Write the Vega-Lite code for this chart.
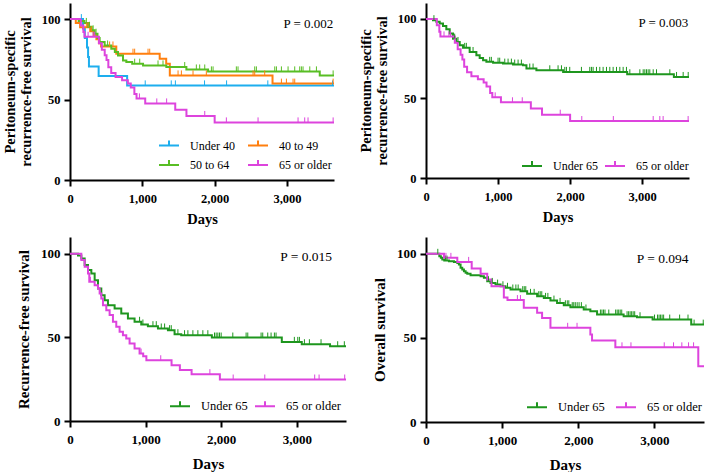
{
  "$schema": "https://vega.github.io/schema/vega-lite/v6.json",
  "padding": {"left": 2, "top": 3, "right": 0, "bottom": 0},
  "columns": 2,
  "align": "each",
  "spacing": {"row": 11, "column": 8},
  "resolve": {"scale": {"color": "independent"}, "legend": {"color": "independent"}},
  "config": {
    "font": "Liberation Serif",
    "view": {"stroke": null},
    "axis": {"grid": false, "domainColor": "black", "domainWidth": 2, "tickColor": "black", "tickWidth": 2, "tickSize": 6,
      "labelFont": "Liberation Serif", "labelFontWeight": "bold", "labelFontSize": 12.5, "labelColor": "black", "labelFlush": false,
      "titleFont": "Liberation Serif", "titleFontWeight": "bold", "titleFontSize": 14.5, "titleColor": "black"},
    "legend": {"orient": "none", "columns": 2, "direction": "horizontal", "symbolType": "M-1,0H1M0,0V-0.5", "symbolSize": 400, "symbolStrokeWidth": 2,
      "labelFont": "Liberation Serif", "labelFontSize": 12, "labelFontWeight": "normal", "labelColor": "black", "labelOffset": 10, "rowPadding": 2.5, "padding": 0, "title": null}
  },
  "datasets": {
    "p1": [
      {"g":"Under 40","d":0,"s":100,"t":"e"},{"g":"Under 40","d":157,"s":100,"t":"c"},{"g":"Under 40","d":180,"s":94.1,"t":"e"},{"g":"Under 40","d":205,"s":88.2,"t":"e"},{"g":"Under 40","d":235,"s":82.4,"t":"e"},{"g":"Under 40","d":250,"s":76.5,"t":"e"},{"g":"Under 40","d":262,"s":70.6,"t":"e"},{"g":"Under 40","d":396,"s":64.7,"t":"e"},{"g":"Under 40","d":790,"s":58.8,"t":"e"},{"g":"Under 40","d":1040,"s":58.8,"t":"c"},{"g":"Under 40","d":1400,"s":58.8,"t":"c"},{"g":"Under 40","d":1457,"s":58.8,"t":"c"},{"g":"Under 40","d":1860,"s":58.8,"t":"c"},{"g":"Under 40","d":2165,"s":58.8,"t":"c"},{"g":"Under 40","d":2735,"s":58.8,"t":"c"},{"g":"Under 40","d":3630,"s":58.8,"t":"c"},{"g":"Under 40","d":3650,"s":58.8,"t":"x"},
      {"g":"40 to 49","d":0,"s":100,"t":"e"},{"g":"40 to 49","d":80,"s":97.5,"t":"e"},{"g":"40 to 49","d":140,"s":95,"t":"e"},{"g":"40 to 49","d":226,"s":95,"t":"c"},{"g":"40 to 49","d":250,"s":95,"t":"c"},{"g":"40 to 49","d":280,"s":92.5,"t":"e"},{"g":"40 to 49","d":295,"s":92.5,"t":"c"},{"g":"40 to 49","d":330,"s":90,"t":"e"},{"g":"40 to 49","d":365,"s":87.5,"t":"e"},{"g":"40 to 49","d":400,"s":85,"t":"e"},{"g":"40 to 49","d":430,"s":83,"t":"e"},{"g":"40 to 49","d":548,"s":83,"t":"c"},{"g":"40 to 49","d":594,"s":83,"t":"c"},{"g":"40 to 49","d":640,"s":78.5,"t":"e"},{"g":"40 to 49","d":871,"s":78.5,"t":"c"},{"g":"40 to 49","d":894,"s":78.5,"t":"c"},{"g":"40 to 49","d":1079,"s":78.5,"t":"c"},{"g":"40 to 49","d":1102,"s":78.5,"t":"c"},{"g":"40 to 49","d":1240,"s":75.4,"t":"e"},{"g":"40 to 49","d":1330,"s":72.3,"t":"e"},{"g":"40 to 49","d":1380,"s":65,"t":"e"},{"g":"40 to 49","d":1494,"s":65,"t":"c"},{"g":"40 to 49","d":1540,"s":65,"t":"c"},{"g":"40 to 49","d":1701,"s":65,"t":"c"},{"g":"40 to 49","d":1885,"s":65,"t":"c"},{"g":"40 to 49","d":2531,"s":65,"t":"c"},{"g":"40 to 49","d":2554,"s":65,"t":"c"},{"g":"40 to 49","d":2692,"s":65,"t":"c"},{"g":"40 to 49","d":2800,"s":59.9,"t":"e"},{"g":"40 to 49","d":2923,"s":59.9,"t":"c"},{"g":"40 to 49","d":2992,"s":59.9,"t":"c"},{"g":"40 to 49","d":3084,"s":59.9,"t":"c"},{"g":"40 to 49","d":3107,"s":59.9,"t":"c"},{"g":"40 to 49","d":3638,"s":59.9,"t":"c"},{"g":"40 to 49","d":3650,"s":59.9,"t":"x"},
      {"g":"50 to 64","d":0,"s":100,"t":"e"},{"g":"50 to 64","d":120,"s":98.8,"t":"e"},{"g":"50 to 64","d":200,"s":97.6,"t":"e"},{"g":"50 to 64","d":226,"s":97.6,"t":"c"},{"g":"50 to 64","d":250,"s":95.2,"t":"e"},{"g":"50 to 64","d":270,"s":95.2,"t":"c"},{"g":"50 to 64","d":300,"s":93,"t":"e"},{"g":"50 to 64","d":320,"s":93,"t":"c"},{"g":"50 to 64","d":341,"s":90.9,"t":"e"},{"g":"50 to 64","d":360,"s":90.9,"t":"c"},{"g":"50 to 64","d":380,"s":88.2,"t":"e"},{"g":"50 to 64","d":410,"s":85.7,"t":"e"},{"g":"50 to 64","d":479,"s":83.6,"t":"e"},{"g":"50 to 64","d":520,"s":83.6,"t":"c"},{"g":"50 to 64","d":571,"s":81.6,"t":"e"},{"g":"50 to 64","d":620,"s":79.5,"t":"e"},{"g":"50 to 64","d":664,"s":77.4,"t":"e"},{"g":"50 to 64","d":733,"s":74.3,"t":"e"},{"g":"50 to 64","d":779,"s":73.3,"t":"e"},{"g":"50 to 64","d":860,"s":72.3,"t":"e"},{"g":"50 to 64","d":894,"s":72.3,"t":"c"},{"g":"50 to 64","d":964,"s":72.3,"t":"c"},{"g":"50 to 64","d":1010,"s":71.2,"t":"e"},{"g":"50 to 64","d":1217,"s":71.2,"t":"c"},{"g":"50 to 64","d":1286,"s":71.2,"t":"c"},{"g":"50 to 64","d":1332,"s":70.2,"t":"e"},{"g":"50 to 64","d":1586,"s":70.2,"t":"c"},{"g":"50 to 64","d":1609,"s":68.7,"t":"e"},{"g":"50 to 64","d":1747,"s":68.7,"t":"c"},{"g":"50 to 64","d":1793,"s":68.7,"t":"c"},{"g":"50 to 64","d":1863,"s":68.7,"t":"c"},{"g":"50 to 64","d":1909,"s":67.5,"t":"e"},{"g":"50 to 64","d":1955,"s":67.5,"t":"c"},{"g":"50 to 64","d":1978,"s":67.5,"t":"c"},{"g":"50 to 64","d":2300,"s":67.5,"t":"c"},{"g":"50 to 64","d":2323,"s":67.5,"t":"c"},{"g":"50 to 64","d":2554,"s":67.5,"t":"c"},{"g":"50 to 64","d":2577,"s":67.5,"t":"c"},{"g":"50 to 64","d":2831,"s":67.5,"t":"c"},{"g":"50 to 64","d":2854,"s":67.5,"t":"c"},{"g":"50 to 64","d":2923,"s":67.5,"t":"c"},{"g":"50 to 64","d":3015,"s":67.5,"t":"c"},{"g":"50 to 64","d":3107,"s":67.5,"t":"c"},{"g":"50 to 64","d":3176,"s":67.5,"t":"c"},{"g":"50 to 64","d":3199,"s":67.5,"t":"c"},{"g":"50 to 64","d":3222,"s":67.5,"t":"c"},{"g":"50 to 64","d":3315,"s":67.5,"t":"c"},{"g":"50 to 64","d":3407,"s":67.5,"t":"c"},{"g":"50 to 64","d":3453,"s":65,"t":"e"},{"g":"50 to 64","d":3638,"s":65,"t":"c"},{"g":"50 to 64","d":3650,"s":65,"t":"x"},
      {"g":"65 or older","d":0,"s":100,"t":"e"},{"g":"65 or older","d":150,"s":96,"t":"e"},{"g":"65 or older","d":185,"s":92,"t":"e"},{"g":"65 or older","d":200,"s":89,"t":"e"},{"g":"65 or older","d":250,"s":89,"t":"c"},{"g":"65 or older","d":318,"s":89,"t":"c"},{"g":"65 or older","d":341,"s":89,"t":"c"},{"g":"65 or older","d":400,"s":85,"t":"e"},{"g":"65 or older","d":440,"s":81,"t":"e"},{"g":"65 or older","d":480,"s":77.5,"t":"e"},{"g":"65 or older","d":505,"s":74.5,"t":"e"},{"g":"65 or older","d":530,"s":70,"t":"e"},{"g":"65 or older","d":570,"s":66.5,"t":"e"},{"g":"65 or older","d":630,"s":64,"t":"e"},{"g":"65 or older","d":720,"s":62,"t":"e"},{"g":"65 or older","d":800,"s":60,"t":"e"},{"g":"65 or older","d":840,"s":57.5,"t":"e"},{"g":"65 or older","d":890,"s":53.5,"t":"e"},{"g":"65 or older","d":920,"s":50.7,"t":"e"},{"g":"65 or older","d":960,"s":50.7,"t":"c"},{"g":"65 or older","d":1040,"s":47.6,"t":"e"},{"g":"65 or older","d":1200,"s":47.6,"t":"c"},{"g":"65 or older","d":1336,"s":47.6,"t":"c"},{"g":"65 or older","d":1455,"s":43.7,"t":"e"},{"g":"65 or older","d":1610,"s":39.8,"t":"e"},{"g":"65 or older","d":1863,"s":39.8,"t":"c"},{"g":"65 or older","d":2000,"s":35.8,"t":"e"},{"g":"65 or older","d":2162,"s":35.8,"t":"c"},{"g":"65 or older","d":2600,"s":35.8,"t":"c"},{"g":"65 or older","d":3153,"s":35.8,"t":"c"},{"g":"65 or older","d":3245,"s":35.8,"t":"c"},{"g":"65 or older","d":3291,"s":35.8,"t":"c"},{"g":"65 or older","d":3638,"s":35.8,"t":"c"},{"g":"65 or older","d":3650,"s":35.8,"t":"x"}
    ],
    "p2": [
      {"g":"Under 65","d":0,"s":100,"t":"e"},{"g":"Under 65","d":97,"s":99.2,"t":"e"},{"g":"Under 65","d":110,"s":99.2,"t":"c"},{"g":"Under 65","d":144,"s":98.2,"t":"e"},{"g":"Under 65","d":190,"s":97.1,"t":"e"},{"g":"Under 65","d":236,"s":95.6,"t":"e"},{"g":"Under 65","d":282,"s":93.5,"t":"e"},{"g":"Under 65","d":329,"s":90.8,"t":"e"},{"g":"Under 65","d":375,"s":87.6,"t":"e"},{"g":"Under 65","d":398,"s":87.6,"t":"c"},{"g":"Under 65","d":421,"s":85.5,"t":"e"},{"g":"Under 65","d":444,"s":85.5,"t":"c"},{"g":"Under 65","d":468,"s":83.4,"t":"e"},{"g":"Under 65","d":514,"s":81.8,"t":"e"},{"g":"Under 65","d":537,"s":81.8,"t":"c"},{"g":"Under 65","d":560,"s":81.8,"t":"c"},{"g":"Under 65","d":606,"s":79.2,"t":"e"},{"g":"Under 65","d":653,"s":79.2,"t":"c"},{"g":"Under 65","d":699,"s":77.2,"t":"e"},{"g":"Under 65","d":745,"s":75.5,"t":"e"},{"g":"Under 65","d":792,"s":74,"t":"e"},{"g":"Under 65","d":838,"s":73,"t":"e"},{"g":"Under 65","d":884,"s":73,"t":"c"},{"g":"Under 65","d":907,"s":73,"t":"c"},{"g":"Under 65","d":931,"s":72.5,"t":"e"},{"g":"Under 65","d":1000,"s":72.5,"t":"c"},{"g":"Under 65","d":1023,"s":72.5,"t":"c"},{"g":"Under 65","d":1069,"s":71.9,"t":"e"},{"g":"Under 65","d":1093,"s":71.9,"t":"c"},{"g":"Under 65","d":1139,"s":71.9,"t":"c"},{"g":"Under 65","d":1185,"s":71.9,"t":"c"},{"g":"Under 65","d":1208,"s":71.3,"t":"e"},{"g":"Under 65","d":1231,"s":71.3,"t":"c"},{"g":"Under 65","d":1278,"s":71.3,"t":"c"},{"g":"Under 65","d":1324,"s":71.3,"t":"c"},{"g":"Under 65","d":1347,"s":70.9,"t":"e"},{"g":"Under 65","d":1394,"s":68.8,"t":"e"},{"g":"Under 65","d":1440,"s":68.8,"t":"c"},{"g":"Under 65","d":1486,"s":68.8,"t":"c"},{"g":"Under 65","d":1532,"s":67.7,"t":"e"},{"g":"Under 65","d":1718,"s":67.7,"t":"c"},{"g":"Under 65","d":1833,"s":67.7,"t":"c"},{"g":"Under 65","d":1880,"s":67.7,"t":"c"},{"g":"Under 65","d":1903,"s":66.7,"t":"e"},{"g":"Under 65","d":1926,"s":66.7,"t":"c"},{"g":"Under 65","d":1949,"s":66.7,"t":"c"},{"g":"Under 65","d":1995,"s":66.7,"t":"c"},{"g":"Under 65","d":2157,"s":66.7,"t":"c"},{"g":"Under 65","d":2273,"s":66.7,"t":"c"},{"g":"Under 65","d":2296,"s":66.7,"t":"c"},{"g":"Under 65","d":2319,"s":66.7,"t":"c"},{"g":"Under 65","d":2366,"s":66.7,"t":"c"},{"g":"Under 65","d":2412,"s":66.7,"t":"c"},{"g":"Under 65","d":2458,"s":66.7,"t":"c"},{"g":"Under 65","d":2505,"s":66.7,"t":"c"},{"g":"Under 65","d":2551,"s":66.7,"t":"c"},{"g":"Under 65","d":2597,"s":66.7,"t":"c"},{"g":"Under 65","d":2644,"s":66.7,"t":"c"},{"g":"Under 65","d":2690,"s":66.7,"t":"c"},{"g":"Under 65","d":2736,"s":66.7,"t":"c"},{"g":"Under 65","d":2782,"s":66.7,"t":"c"},{"g":"Under 65","d":2792,"s":65.2,"t":"e"},{"g":"Under 65","d":2829,"s":65.2,"t":"c"},{"g":"Under 65","d":2968,"s":65.2,"t":"c"},{"g":"Under 65","d":3014,"s":65.2,"t":"c"},{"g":"Under 65","d":3037,"s":65.2,"t":"c"},{"g":"Under 65","d":3060,"s":65.2,"t":"c"},{"g":"Under 65","d":3083,"s":65.2,"t":"c"},{"g":"Under 65","d":3106,"s":65.2,"t":"c"},{"g":"Under 65","d":3153,"s":65.2,"t":"c"},{"g":"Under 65","d":3199,"s":65.2,"t":"c"},{"g":"Under 65","d":3384,"s":65.2,"t":"c"},{"g":"Under 65","d":3440,"s":63.5,"t":"e"},{"g":"Under 65","d":3477,"s":63.5,"t":"c"},{"g":"Under 65","d":3569,"s":63.5,"t":"c"},{"g":"Under 65","d":3639,"s":63.5,"t":"c"},{"g":"Under 65","d":3650,"s":63.5,"t":"x"},
      {"g":"65 or older","d":0,"s":100,"t":"e"},{"g":"65 or older","d":150,"s":96,"t":"e"},{"g":"65 or older","d":185,"s":92,"t":"e"},{"g":"65 or older","d":200,"s":89,"t":"e"},{"g":"65 or older","d":250,"s":89,"t":"c"},{"g":"65 or older","d":318,"s":89,"t":"c"},{"g":"65 or older","d":341,"s":89,"t":"c"},{"g":"65 or older","d":400,"s":85,"t":"e"},{"g":"65 or older","d":440,"s":81,"t":"e"},{"g":"65 or older","d":480,"s":77.5,"t":"e"},{"g":"65 or older","d":505,"s":74.5,"t":"e"},{"g":"65 or older","d":530,"s":70,"t":"e"},{"g":"65 or older","d":570,"s":66.5,"t":"e"},{"g":"65 or older","d":630,"s":64,"t":"e"},{"g":"65 or older","d":720,"s":62,"t":"e"},{"g":"65 or older","d":800,"s":60,"t":"e"},{"g":"65 or older","d":840,"s":57.5,"t":"e"},{"g":"65 or older","d":890,"s":53.5,"t":"e"},{"g":"65 or older","d":920,"s":50.7,"t":"e"},{"g":"65 or older","d":960,"s":50.7,"t":"c"},{"g":"65 or older","d":1040,"s":47.6,"t":"e"},{"g":"65 or older","d":1200,"s":47.6,"t":"c"},{"g":"65 or older","d":1336,"s":47.6,"t":"c"},{"g":"65 or older","d":1455,"s":43.7,"t":"e"},{"g":"65 or older","d":1610,"s":39.8,"t":"e"},{"g":"65 or older","d":1863,"s":39.8,"t":"c"},{"g":"65 or older","d":2000,"s":35.8,"t":"e"},{"g":"65 or older","d":2162,"s":35.8,"t":"c"},{"g":"65 or older","d":2600,"s":35.8,"t":"c"},{"g":"65 or older","d":3153,"s":35.8,"t":"c"},{"g":"65 or older","d":3245,"s":35.8,"t":"c"},{"g":"65 or older","d":3291,"s":35.8,"t":"c"},{"g":"65 or older","d":3638,"s":35.8,"t":"c"},{"g":"65 or older","d":3650,"s":35.8,"t":"x"}
    ],
    "p3": [
      {"g":"Under 65","d":0,"s":100,"t":"e"},{"g":"Under 65","d":106,"s":99,"t":"e"},{"g":"Under 65","d":150,"s":97.2,"t":"e"},{"g":"Under 65","d":194,"s":93.2,"t":"e"},{"g":"Under 65","d":238,"s":90.2,"t":"e"},{"g":"Under 65","d":282,"s":88.2,"t":"e"},{"g":"Under 65","d":326,"s":84.2,"t":"e"},{"g":"Under 65","d":370,"s":79.2,"t":"e"},{"g":"Under 65","d":414,"s":75.2,"t":"e"},{"g":"Under 65","d":458,"s":72.2,"t":"e"},{"g":"Under 65","d":502,"s":69.2,"t":"e"},{"g":"Under 65","d":590,"s":67.2,"t":"e"},{"g":"Under 65","d":678,"s":64.3,"t":"e"},{"g":"Under 65","d":766,"s":61.3,"t":"e"},{"g":"Under 65","d":854,"s":59.3,"t":"e"},{"g":"Under 65","d":920,"s":59.3,"t":"c"},{"g":"Under 65","d":942,"s":57.7,"t":"e"},{"g":"Under 65","d":964,"s":57.7,"t":"c"},{"g":"Under 65","d":1030,"s":56.7,"t":"e"},{"g":"Under 65","d":1097,"s":56.7,"t":"c"},{"g":"Under 65","d":1141,"s":56.7,"t":"c"},{"g":"Under 65","d":1163,"s":55.3,"t":"e"},{"g":"Under 65","d":1207,"s":55.3,"t":"c"},{"g":"Under 65","d":1251,"s":55.3,"t":"c"},{"g":"Under 65","d":1295,"s":54.3,"t":"e"},{"g":"Under 65","d":1317,"s":54.3,"t":"c"},{"g":"Under 65","d":1339,"s":54.3,"t":"c"},{"g":"Under 65","d":1383,"s":51.9,"t":"e"},{"g":"Under 65","d":1427,"s":51.9,"t":"c"},{"g":"Under 65","d":1471,"s":51.3,"t":"e"},{"g":"Under 65","d":1515,"s":51.3,"t":"c"},{"g":"Under 65","d":1559,"s":51.3,"t":"c"},{"g":"Under 65","d":1625,"s":51.3,"t":"c"},{"g":"Under 65","d":1691,"s":51.3,"t":"c"},{"g":"Under 65","d":1757,"s":51.3,"t":"c"},{"g":"Under 65","d":1823,"s":51.3,"t":"c"},{"g":"Under 65","d":1876,"s":49.9,"t":"e"},{"g":"Under 65","d":1911,"s":49.9,"t":"c"},{"g":"Under 65","d":1933,"s":49.9,"t":"c"},{"g":"Under 65","d":1955,"s":49.9,"t":"c"},{"g":"Under 65","d":1977,"s":49.9,"t":"c"},{"g":"Under 65","d":1999,"s":49.9,"t":"c"},{"g":"Under 65","d":2153,"s":49.9,"t":"c"},{"g":"Under 65","d":2329,"s":49.9,"t":"c"},{"g":"Under 65","d":2351,"s":49.9,"t":"c"},{"g":"Under 65","d":2527,"s":49.9,"t":"c"},{"g":"Under 65","d":2549,"s":49.9,"t":"c"},{"g":"Under 65","d":2615,"s":49.9,"t":"c"},{"g":"Under 65","d":2659,"s":49.9,"t":"c"},{"g":"Under 65","d":2703,"s":49.9,"t":"c"},{"g":"Under 65","d":2725,"s":49.9,"t":"c"},{"g":"Under 65","d":2801,"s":47.3,"t":"e"},{"g":"Under 65","d":2967,"s":47.3,"t":"c"},{"g":"Under 65","d":3012,"s":47.3,"t":"c"},{"g":"Under 65","d":3034,"s":47.3,"t":"c"},{"g":"Under 65","d":3065,"s":45.9,"t":"e"},{"g":"Under 65","d":3100,"s":45.9,"t":"c"},{"g":"Under 65","d":3166,"s":45.9,"t":"c"},{"g":"Under 65","d":3320,"s":45.9,"t":"c"},{"g":"Under 65","d":3439,"s":44.7,"t":"e"},{"g":"Under 65","d":3540,"s":44.7,"t":"c"},{"g":"Under 65","d":3628,"s":44.7,"t":"c"},{"g":"Under 65","d":3650,"s":44.7,"t":"x"},
      {"g":"65 or older","d":0,"s":100,"t":"e"},{"g":"65 or older","d":128,"s":100,"t":"e"},{"g":"65 or older","d":150,"s":96.2,"t":"e"},{"g":"65 or older","d":194,"s":92.2,"t":"e"},{"g":"65 or older","d":238,"s":88.2,"t":"e"},{"g":"65 or older","d":255,"s":83.2,"t":"e"},{"g":"65 or older","d":270,"s":83.2,"t":"c"},{"g":"65 or older","d":326,"s":81.2,"t":"e"},{"g":"65 or older","d":370,"s":79.2,"t":"e"},{"g":"65 or older","d":392,"s":76.2,"t":"e"},{"g":"65 or older","d":414,"s":73.2,"t":"e"},{"g":"65 or older","d":436,"s":69.2,"t":"e"},{"g":"65 or older","d":480,"s":66.2,"t":"e"},{"g":"65 or older","d":524,"s":63.3,"t":"e"},{"g":"65 or older","d":568,"s":59.3,"t":"e"},{"g":"65 or older","d":612,"s":56.3,"t":"e"},{"g":"65 or older","d":656,"s":53.3,"t":"e"},{"g":"65 or older","d":700,"s":51.3,"t":"e"},{"g":"65 or older","d":744,"s":49.3,"t":"e"},{"g":"65 or older","d":788,"s":46.3,"t":"e"},{"g":"65 or older","d":854,"s":43.3,"t":"e"},{"g":"65 or older","d":920,"s":40.3,"t":"e"},{"g":"65 or older","d":940,"s":40.3,"t":"c"},{"g":"65 or older","d":968,"s":38.7,"t":"e"},{"g":"65 or older","d":1010,"s":36.3,"t":"e"},{"g":"65 or older","d":1200,"s":36.3,"t":"c"},{"g":"65 or older","d":1343,"s":33.3,"t":"e"},{"g":"65 or older","d":1453,"s":30.5,"t":"e"},{"g":"65 or older","d":1608,"s":28,"t":"e"},{"g":"65 or older","d":1850,"s":28,"t":"c"},{"g":"65 or older","d":1982,"s":24.8,"t":"e"},{"g":"65 or older","d":2158,"s":24.8,"t":"c"},{"g":"65 or older","d":2576,"s":24.8,"t":"c"},{"g":"65 or older","d":3236,"s":24.8,"t":"c"},{"g":"65 or older","d":3294,"s":24.8,"t":"c"},{"g":"65 or older","d":3633,"s":24.8,"t":"c"},{"g":"65 or older","d":3650,"s":24.8,"t":"x"}
    ],
    "p4": [
      {"g":"Under 65","d":0,"s":100,"t":"e"},{"g":"Under 65","d":155,"s":100,"t":"c"},{"g":"Under 65","d":175,"s":98.6,"t":"e"},{"g":"Under 65","d":195,"s":97.6,"t":"e"},{"g":"Under 65","d":214,"s":96.6,"t":"e"},{"g":"Under 65","d":240,"s":96,"t":"e"},{"g":"Under 65","d":255,"s":96,"t":"c"},{"g":"Under 65","d":275,"s":96,"t":"c"},{"g":"Under 65","d":301,"s":95.6,"t":"e"},{"g":"Under 65","d":367,"s":95.2,"t":"e"},{"g":"Under 65","d":411,"s":94.6,"t":"e"},{"g":"Under 65","d":432,"s":93.7,"t":"e"},{"g":"Under 65","d":454,"s":91.7,"t":"e"},{"g":"Under 65","d":476,"s":90.7,"t":"e"},{"g":"Under 65","d":498,"s":89.7,"t":"e"},{"g":"Under 65","d":520,"s":88.8,"t":"e"},{"g":"Under 65","d":542,"s":88.1,"t":"e"},{"g":"Under 65","d":585,"s":87.3,"t":"e"},{"g":"Under 65","d":717,"s":86.7,"t":"e"},{"g":"Under 65","d":760,"s":85.7,"t":"e"},{"g":"Under 65","d":804,"s":83.7,"t":"e"},{"g":"Under 65","d":820,"s":83.7,"t":"c"},{"g":"Under 65","d":847,"s":82.7,"t":"e"},{"g":"Under 65","d":870,"s":82.7,"t":"c"},{"g":"Under 65","d":913,"s":81.7,"t":"e"},{"g":"Under 65","d":940,"s":81.7,"t":"c"},{"g":"Under 65","d":979,"s":80.7,"t":"e"},{"g":"Under 65","d":1010,"s":80.7,"t":"c"},{"g":"Under 65","d":1044,"s":79.8,"t":"e"},{"g":"Under 65","d":1070,"s":79.8,"t":"c"},{"g":"Under 65","d":1110,"s":78.8,"t":"e"},{"g":"Under 65","d":1140,"s":78.8,"t":"c"},{"g":"Under 65","d":1180,"s":78.8,"t":"c"},{"g":"Under 65","d":1210,"s":78.8,"t":"c"},{"g":"Under 65","d":1241,"s":77.8,"t":"e"},{"g":"Under 65","d":1270,"s":77.8,"t":"c"},{"g":"Under 65","d":1290,"s":77.8,"t":"c"},{"g":"Under 65","d":1310,"s":77.8,"t":"c"},{"g":"Under 65","d":1328,"s":76.2,"t":"e"},{"g":"Under 65","d":1372,"s":76.2,"t":"c"},{"g":"Under 65","d":1420,"s":76.2,"t":"c"},{"g":"Under 65","d":1459,"s":74.8,"t":"e"},{"g":"Under 65","d":1480,"s":74.8,"t":"c"},{"g":"Under 65","d":1500,"s":74.8,"t":"c"},{"g":"Under 65","d":1520,"s":74.8,"t":"c"},{"g":"Under 65","d":1547,"s":73.8,"t":"e"},{"g":"Under 65","d":1570,"s":73.8,"t":"c"},{"g":"Under 65","d":1600,"s":73.8,"t":"c"},{"g":"Under 65","d":1634,"s":72.2,"t":"e"},{"g":"Under 65","d":1680,"s":72.2,"t":"c"},{"g":"Under 65","d":1721,"s":70.8,"t":"e"},{"g":"Under 65","d":1760,"s":70.8,"t":"c"},{"g":"Under 65","d":1809,"s":69.4,"t":"e"},{"g":"Under 65","d":1830,"s":69.4,"t":"c"},{"g":"Under 65","d":1855,"s":69.4,"t":"c"},{"g":"Under 65","d":1875,"s":69.4,"t":"c"},{"g":"Under 65","d":1896,"s":68.3,"t":"e"},{"g":"Under 65","d":1920,"s":68.3,"t":"c"},{"g":"Under 65","d":1940,"s":68.3,"t":"c"},{"g":"Under 65","d":1960,"s":68.3,"t":"c"},{"g":"Under 65","d":1985,"s":68.3,"t":"c"},{"g":"Under 65","d":2010,"s":68.3,"t":"c"},{"g":"Under 65","d":2040,"s":68.3,"t":"c"},{"g":"Under 65","d":2071,"s":66.9,"t":"e"},{"g":"Under 65","d":2100,"s":66.9,"t":"c"},{"g":"Under 65","d":2158,"s":65.9,"t":"e"},{"g":"Under 65","d":2246,"s":63.9,"t":"e"},{"g":"Under 65","d":2290,"s":63.9,"t":"c"},{"g":"Under 65","d":2310,"s":63.9,"t":"c"},{"g":"Under 65","d":2330,"s":63.9,"t":"c"},{"g":"Under 65","d":2350,"s":63.9,"t":"c"},{"g":"Under 65","d":2400,"s":63.9,"t":"c"},{"g":"Under 65","d":2490,"s":63.9,"t":"c"},{"g":"Under 65","d":2510,"s":63.9,"t":"c"},{"g":"Under 65","d":2530,"s":63.9,"t":"c"},{"g":"Under 65","d":2550,"s":63.9,"t":"c"},{"g":"Under 65","d":2570,"s":63.9,"t":"c"},{"g":"Under 65","d":2595,"s":62.9,"t":"e"},{"g":"Under 65","d":2640,"s":62.9,"t":"c"},{"g":"Under 65","d":2660,"s":62.9,"t":"c"},{"g":"Under 65","d":2680,"s":62.9,"t":"c"},{"g":"Under 65","d":2700,"s":62.9,"t":"c"},{"g":"Under 65","d":2720,"s":62.9,"t":"c"},{"g":"Under 65","d":2740,"s":62.9,"t":"c"},{"g":"Under 65","d":2770,"s":62.3,"t":"e"},{"g":"Under 65","d":2810,"s":62.3,"t":"c"},{"g":"Under 65","d":2975,"s":60.9,"t":"e"},{"g":"Under 65","d":3000,"s":60.9,"t":"c"},{"g":"Under 65","d":3040,"s":60.9,"t":"c"},{"g":"Under 65","d":3060,"s":60.9,"t":"c"},{"g":"Under 65","d":3080,"s":60.9,"t":"c"},{"g":"Under 65","d":3100,"s":60.9,"t":"c"},{"g":"Under 65","d":3120,"s":60.9,"t":"c"},{"g":"Under 65","d":3200,"s":60.9,"t":"c"},{"g":"Under 65","d":3330,"s":60.9,"t":"c"},{"g":"Under 65","d":3440,"s":60.9,"t":"c"},{"g":"Under 65","d":3482,"s":57.9,"t":"e"},{"g":"Under 65","d":3520,"s":57.9,"t":"c"},{"g":"Under 65","d":3640,"s":57.9,"t":"c"},{"g":"Under 65","d":3650,"s":57.9,"t":"x"},
      {"g":"65 or older","d":0,"s":100,"t":"e"},{"g":"65 or older","d":236,"s":97.6,"t":"e"},{"g":"65 or older","d":262,"s":97.6,"t":"c"},{"g":"65 or older","d":327,"s":97.6,"t":"c"},{"g":"65 or older","d":411,"s":95.2,"t":"e"},{"g":"65 or older","d":560,"s":95.2,"t":"c"},{"g":"65 or older","d":600,"s":91.3,"t":"e"},{"g":"65 or older","d":717,"s":88.1,"t":"e"},{"g":"65 or older","d":804,"s":84.7,"t":"e"},{"g":"65 or older","d":860,"s":80.7,"t":"e"},{"g":"65 or older","d":1022,"s":74,"t":"e"},{"g":"65 or older","d":1070,"s":72.5,"t":"e"},{"g":"65 or older","d":1200,"s":72.5,"t":"c"},{"g":"65 or older","d":1240,"s":72.5,"t":"c"},{"g":"65 or older","d":1284,"s":67.9,"t":"e"},{"g":"65 or older","d":1459,"s":64.9,"t":"e"},{"g":"65 or older","d":1524,"s":61.9,"t":"e"},{"g":"65 or older","d":1634,"s":56,"t":"e"},{"g":"65 or older","d":1860,"s":56,"t":"c"},{"g":"65 or older","d":1983,"s":56,"t":"c"},{"g":"65 or older","d":2158,"s":52,"t":"e"},{"g":"65 or older","d":2180,"s":48.4,"t":"e"},{"g":"65 or older","d":2486,"s":44.4,"t":"e"},{"g":"65 or older","d":2573,"s":44.4,"t":"c"},{"g":"65 or older","d":2691,"s":44.4,"t":"c"},{"g":"65 or older","d":3128,"s":44.4,"t":"c"},{"g":"65 or older","d":3250,"s":44.4,"t":"c"},{"g":"65 or older","d":3359,"s":44.4,"t":"c"},{"g":"65 or older","d":3447,"s":44.4,"t":"c"},{"g":"65 or older","d":3513,"s":44.4,"t":"c"},{"g":"65 or older","d":3575,"s":33.1,"t":"e"},{"g":"65 or older","d":3650,"s":33.1,"t":"x"}
    ]
  },
  "concat": [
    {
      "width": 264, "height": 177,
      "layer": [
        {"data": {"name": "p1"}, "mark": {"type": "line", "interpolate": "step-after", "strokeWidth": 2},
         "encoding": {
           "x": {"field": "d", "type": "quantitative", "scale": {"domain": [0, 3650], "nice": false}, "axis": {"values": [0, 1000, 2000, 3000], "format": ",d", "title": "Days", "labelFont": "Liberation Serif", "labelFontWeight": "bold", "labelFontSize": 12.5, "labelPadding": 6, "titlePadding": 8, "titleFont": "Liberation Serif", "titleFontSize": 14.5}},
           "y": {"field": "s", "type": "quantitative", "scale": {"domain": [0, 110], "nice": false}, "axis": {"values": [0, 50, 100], "title": ["Peritoneum-specific", "recurrence-free survival"], "labelFont": "Liberation Serif", "labelFontWeight": "bold", "labelFontSize": 12.5, "labelPadding": 4, "titlePadding": 8, "titleLineHeight": 15.5, "titleFont": "Liberation Serif", "titleFontSize": 14.5}},
           "color": {"field": "g", "type": "nominal", "scale": {"domain": ["Under 40", "40 to 49", "50 to 64", "65 or older"], "range": ["#1DAEEE", "#FF7F0E", "#58BE24", "#DD44DD"]}, "legend": {"legendX": 88, "legendY": 131.5, "columnPadding": 9, "labelFont": "Liberation Serif"}}}},
        {"data": {"name": "p1"}, "transform": [{"filter": "datum.t == 'c'"}], "mark": {"type": "point", "shape": "M0,0V-1", "filled": false, "size": 100, "strokeWidth": 1, "opacity": 1},
         "encoding": {"x": {"field": "d", "type": "quantitative"}, "y": {"field": "s", "type": "quantitative"}, "color": {"field": "g", "type": "nominal", "legend": {"legendX": 88, "legendY": 131.5, "columnPadding": 9, "labelFont": "Liberation Serif"}}}},
        {"data": {"values": [{"p": "P = 0.002"}]}, "mark": {"type": "text", "align": "right", "baseline": "middle", "font": "Liberation Serif", "fontSize": 13, "color": "black"},
         "encoding": {"x": {"datum": 3640, "type": "quantitative"}, "y": {"datum": 96.7, "type": "quantitative"}, "text": {"field": "p"}}}
      ]
    },
    {
      "width": 263, "height": 175,
      "layer": [
        {"data": {"name": "p2"}, "mark": {"type": "line", "interpolate": "step-after", "strokeWidth": 2},
         "encoding": {
           "x": {"field": "d", "type": "quantitative", "scale": {"domain": [0, 3650], "nice": false}, "axis": {"values": [0, 1000, 2000, 3000], "format": ",d", "title": "Days", "labelFont": "Liberation Serif", "labelFontWeight": "bold", "labelFontSize": 12.5, "labelPadding": 6, "titlePadding": 8, "titleFont": "Liberation Serif", "titleFontSize": 14.5}},
           "y": {"field": "s", "type": "quantitative", "scale": {"domain": [0, 110], "nice": false}, "axis": {"values": [0, 50, 100], "title": ["Peritoneum-specific", "recurrence-free survival"], "labelFont": "Liberation Serif", "labelFontWeight": "bold", "labelFontSize": 12.5, "labelPadding": 4, "titlePadding": 8, "titleLineHeight": 15.5, "titleFont": "Liberation Serif", "titleFontSize": 14.5}},
           "color": {"field": "g", "type": "nominal", "scale": {"domain": ["Under 65", "65 or older"], "range": ["#1E961E", "#DD44DD"]}, "legend": {"legendX": 95, "legendY": 152, "columnPadding": 3, "labelFont": "Liberation Serif"}}}},
        {"data": {"name": "p2"}, "transform": [{"filter": "datum.t == 'c'"}], "mark": {"type": "point", "shape": "M0,0V-1", "filled": false, "size": 100, "strokeWidth": 1, "opacity": 1},
         "encoding": {"x": {"field": "d", "type": "quantitative"}, "y": {"field": "s", "type": "quantitative"}, "color": {"field": "g", "type": "nominal", "legend": {"legendX": 95, "legendY": 152, "columnPadding": 3, "labelFont": "Liberation Serif"}}}},
        {"data": {"values": [{"p": "P = 0.003"}]}, "mark": {"type": "text", "align": "right", "baseline": "middle", "font": "Liberation Serif", "fontSize": 13, "color": "black"},
         "encoding": {"x": {"datum": 3640, "type": "quantitative"}, "y": {"datum": 97.5, "type": "quantitative"}, "text": {"field": "p"}}}
      ]
    },
    {
      "width": 276, "height": 184,
      "layer": [
        {"data": {"name": "p3"}, "mark": {"type": "line", "interpolate": "step-after", "strokeWidth": 2},
         "encoding": {
           "x": {"field": "d", "type": "quantitative", "scale": {"domain": [0, 3650], "nice": false}, "axis": {"values": [0, 1000, 2000, 3000], "format": ",d", "title": "Days", "labelFont": "Liberation Serif", "labelFontWeight": "bold", "labelFontSize": 13, "labelPadding": 6, "titlePadding": 10, "titleFont": "Liberation Serif", "titleFontSize": 15}},
           "y": {"field": "s", "type": "quantitative", "scale": {"domain": [0, 110], "nice": false}, "axis": {"values": [0, 50, 100], "title": "Recurrence-free survival", "labelFont": "Liberation Serif", "labelFontWeight": "bold", "labelFontSize": 13, "labelPadding": 4, "titlePadding": 9, "titleFont": "Liberation Serif", "titleFontSize": 15}},
           "color": {"field": "g", "type": "nominal", "scale": {"domain": ["Under 65", "65 or older"], "range": ["#1E961E", "#DD44DD"]}, "legend": {"legendX": 99, "legendY": 158, "columnPadding": 3, "labelFontSize": 12.5, "labelFont": "Liberation Serif"}}}},
        {"data": {"name": "p3"}, "transform": [{"filter": "datum.t == 'c'"}], "mark": {"type": "point", "shape": "M0,0V-1", "filled": false, "size": 100, "strokeWidth": 1, "opacity": 1},
         "encoding": {"x": {"field": "d", "type": "quantitative"}, "y": {"field": "s", "type": "quantitative"}, "color": {"field": "g", "type": "nominal", "legend": {"legendX": 99, "legendY": 158, "columnPadding": 3, "labelFontSize": 12.5, "labelFont": "Liberation Serif"}}}},
        {"data": {"values": [{"p": "P = 0.015"}]}, "mark": {"type": "text", "align": "right", "baseline": "middle", "font": "Liberation Serif", "fontSize": 13.5, "color": "black"},
         "encoding": {"x": {"datum": 3465, "type": "quantitative"}, "y": {"datum": 97.8, "type": "quantitative"}, "text": {"field": "p"}}}
      ]
    },
    {
      "width": 278, "height": 185,
      "layer": [
        {"data": {"name": "p4"}, "mark": {"type": "line", "interpolate": "step-after", "strokeWidth": 2},
         "encoding": {
           "x": {"field": "d", "type": "quantitative", "scale": {"domain": [0, 3650], "nice": false}, "axis": {"values": [0, 1000, 2000, 3000], "format": ",d", "title": "Days", "labelFont": "Liberation Serif", "labelFontWeight": "bold", "labelFontSize": 13, "labelPadding": 6, "titlePadding": 10, "titleFont": "Liberation Serif", "titleFontSize": 15}},
           "y": {"field": "s", "type": "quantitative", "scale": {"domain": [0, 110], "nice": false}, "axis": {"values": [0, 50, 100], "title": "Overall survival", "labelFont": "Liberation Serif", "labelFontWeight": "bold", "labelFontSize": 13, "labelPadding": 4, "titlePadding": 9, "titleFont": "Liberation Serif", "titleFontSize": 15}},
           "color": {"field": "g", "type": "nominal", "scale": {"domain": ["Under 65", "65 or older"], "range": ["#1E961E", "#DD44DD"]}, "legend": {"legendX": 100, "legendY": 159, "columnPadding": 7, "labelFontSize": 12.5, "labelFont": "Liberation Serif"}}}},
        {"data": {"name": "p4"}, "transform": [{"filter": "datum.t == 'c'"}], "mark": {"type": "point", "shape": "M0,0V-1", "filled": false, "size": 100, "strokeWidth": 1, "opacity": 1},
         "encoding": {"x": {"field": "d", "type": "quantitative"}, "y": {"field": "s", "type": "quantitative"}, "color": {"field": "g", "type": "nominal", "legend": {"legendX": 100, "legendY": 159, "columnPadding": 7, "labelFontSize": 12.5, "labelFont": "Liberation Serif"}}}},
        {"data": {"values": [{"p": "P = 0.094"}]}, "mark": {"type": "text", "align": "right", "baseline": "middle", "font": "Liberation Serif", "fontSize": 13.5, "color": "black"},
         "encoding": {"x": {"datum": 3447, "type": "quantitative"}, "y": {"datum": 97.2, "type": "quantitative"}, "text": {"field": "p"}}}
      ]
    }
  ]
}
